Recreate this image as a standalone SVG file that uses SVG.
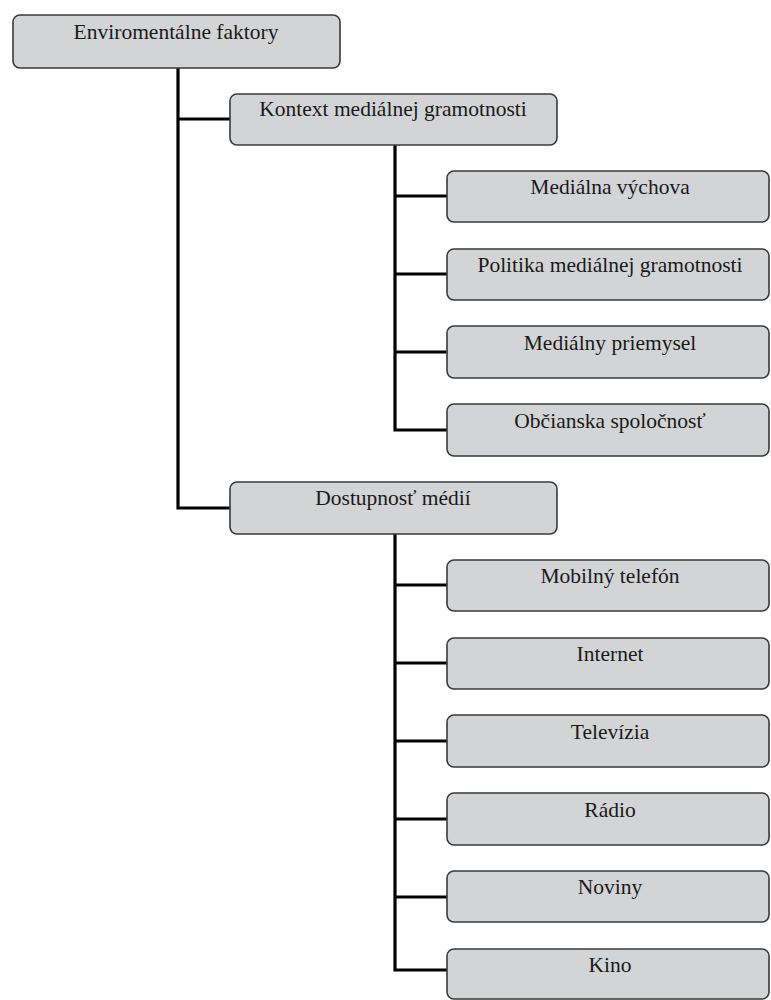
<svg xmlns="http://www.w3.org/2000/svg" width="771" height="1000" viewBox="0 0 771 1000">
<style>
.box{fill:#d3d4d5;stroke:#3a3a3a;stroke-width:1.6}
.t{font-family:"Liberation Serif",serif;font-size:21.5px;fill:#1a1a1a;text-anchor:middle}
.c{fill:none;stroke:#000;stroke-width:3.2}
</style>
<rect width="771" height="1000" fill="#fff"/>
<g id="connectors">
<path class="c" d="M178 68V508H230M178 119H230"/>
<path class="c" d="M395 145V430H447M395 196H447M395 274H447M395 352H447"/>
<path class="c" d="M395 534V970H447M395 585H447M395 663H447M395 741H447M395 819H447M395 897H447"/>
</g>
<g id="root"><rect class="box" x="13" y="15" width="327" height="53" rx="7"/><text class="t" x="176" y="39">Enviromentálne faktory</text></g>
<g id="kontext"><rect class="box" x="230" y="94" width="327" height="51" rx="7"/><text class="t" x="393" y="116">Kontext mediálnej gramotnosti</text></g>
<g id="vychova"><rect class="box" x="447" y="171" width="322" height="51" rx="7"/><text class="t" x="610" y="194">Mediálna výchova</text></g>
<g id="politika"><rect class="box" x="447" y="249" width="322" height="51" rx="7"/><text class="t" x="610" y="272">Politika mediálnej gramotnosti</text></g>
<g id="priemysel"><rect class="box" x="447" y="326" width="322" height="52" rx="7"/><text class="t" x="610" y="350">Mediálny priemysel</text></g>
<g id="spolocnost"><rect class="box" x="447" y="404" width="322" height="52" rx="7"/><text class="t" x="610" y="428">Občianska spoločnosť</text></g>
<g id="dostupnost"><rect class="box" x="230" y="482" width="327" height="52" rx="7"/><text class="t" x="393" y="505">Dostupnosť médií</text></g>
<g id="mobil"><rect class="box" x="447" y="560" width="322" height="51" rx="7"/><text class="t" x="610" y="583">Mobilný telefón</text></g>
<g id="internet"><rect class="box" x="447" y="638" width="322" height="51" rx="7"/><text class="t" x="610" y="661">Internet</text></g>
<g id="televizia"><rect class="box" x="447" y="715" width="322" height="52" rx="7"/><text class="t" x="610" y="739">Televízia</text></g>
<g id="radio"><rect class="box" x="447" y="793" width="322" height="52" rx="7"/><text class="t" x="610" y="817">Rádio</text></g>
<g id="noviny"><rect class="box" x="447" y="871" width="322" height="51" rx="7"/><text class="t" x="610" y="894">Noviny</text></g>
<g id="kino"><rect class="box" x="447" y="949" width="322" height="50" rx="7"/><text class="t" x="610" y="972">Kino</text></g>
</svg>
